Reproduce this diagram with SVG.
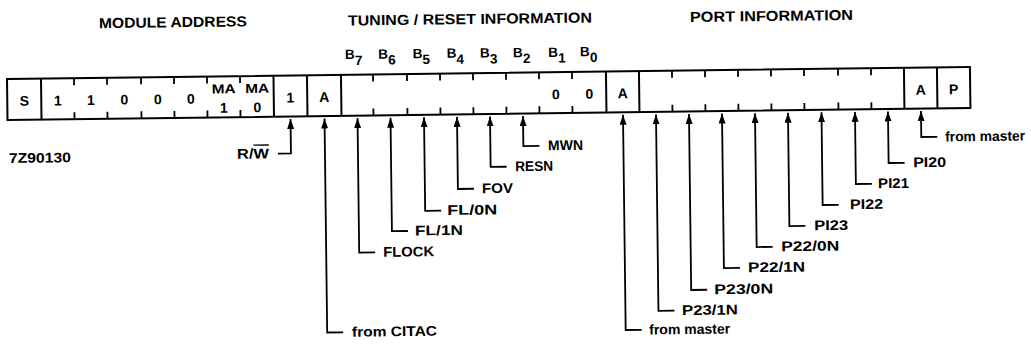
<svg xmlns="http://www.w3.org/2000/svg" width="1031" height="344" viewBox="0 0 1031 344">
<defs>
<style>
.ln{stroke:#000;stroke-width:2;fill:none}
.tk{stroke:#000;stroke-width:1.8;fill:none}
.t{font-family:"Liberation Sans",Arial,sans-serif;font-weight:bold;fill:#000}
.c{font-size:14px;text-anchor:middle}
.ma{font-size:13px;text-anchor:middle}
.lb{font-size:14px}
.ti{font-size:14.5px;text-anchor:middle}
.bl{font-size:13.5px}
.ld{stroke:#000;stroke-width:1.8;fill:none;marker-end:url(#ah)}
</style>
<marker id="ah" markerUnits="userSpaceOnUse" markerWidth="10" markerHeight="7" refX="10" refY="3.5" orient="auto">
<path d="M0,0 L10,3.5 L0,7 z" fill="#000"/>
</marker>
</defs>
<rect width="1031" height="344" fill="#fff"/>
<g transform="rotate(-0.716 7 79)">
<g id="titles" class="t ti">
<text id="title-module" x="173.6" y="29.3" textLength="148" lengthAdjust="spacingAndGlyphs">MODULE ADDRESS</text>
<text id="title-tuning" x="470.7" y="29.8" textLength="244" lengthAdjust="spacingAndGlyphs">TUNING / RESET INFORMATION</text>
<text id="title-port" x="772.2" y="30.5" textLength="163" lengthAdjust="spacingAndGlyphs">PORT INFORMATION</text>
</g>
<g id="bit-labels" class="t bl">
<text x="345.3" y="63.3">B<tspan dy="6">7</tspan></text>
<text x="378.6" y="63.3">B<tspan dy="6">6</tspan></text>
<text x="413" y="63.3">B<tspan dy="6">5</tspan></text>
<text x="447" y="63.3">B<tspan dy="6">4</tspan></text>
<text x="480.3" y="63.5">B<tspan dy="6">3</tspan></text>
<text x="513.3" y="63.5">B<tspan dy="6">2</tspan></text>
<text x="548.6" y="63.8">B<tspan dy="5.5">1</tspan></text>
<text x="580.3" y="63.3">B<tspan dy="6">0</tspan></text>
</g>
<g id="frame">
<rect class="ln" x="7" y="79" width="963" height="41"/>
<path class="ln" d="M41,79V120 M273.5,79V120 M307,79V120 M341,79V120 M606,79V120 M639,79V120 M904,79V120 M937,79V120"/>
<path class="tk" d="M74,79v7M74,113v7 M107,79v7M107,113v7 M141,79v7M141,113v7 M174,79v7M174,113v7 M207,79v7M207,113v7 M240,79v7M240,113v7 M373,79v7M373,113v7 M407,79v7M407,113v7 M440,79v7M440,113v7 M473,79v7M473,113v7 M506,79v7M506,113v7 M539,79v7M539,113v7 M572,79v7M572,113v7 M672,79v7M672,113v7 M705,79v7M705,113v7 M738,79v7M738,113v7 M771,79v7M771,113v7 M804,79v7M804,113v7 M838,79v7M838,113v7 M871,79v7M871,113v7"/>
</g>
<g id="cells" class="t c">
<g id="cell-s"><text x="24" y="106">S</text></g>
<g id="cell-a6"><text x="57.5" y="106">1</text></g>
<g id="cell-a5"><text x="90.5" y="106">1</text></g>
<g id="cell-a4"><text x="124" y="106">0</text></g>
<g id="cell-a3"><text x="157.5" y="106">0</text></g>
<g id="cell-a2"><text x="190.5" y="106">0</text></g>
<g id="cell-ma1"><text class="ma" x="223.5" y="96" textLength="24" lengthAdjust="spacingAndGlyphs">MA</text><text x="223.5" y="115.4">1</text></g>
<g id="cell-ma0"><text class="ma" x="257" y="96" textLength="24" lengthAdjust="spacingAndGlyphs">MA</text><text x="257" y="115.4">0</text></g>
<g id="cell-rw"><text x="290" y="106">1</text></g>
<g id="cell-ack1"><text x="324" y="106">A</text></g>
<g id="cell-b1"><text x="555.5" y="106">0</text></g>
<g id="cell-b0"><text x="589" y="106">0</text></g>
<g id="cell-ack2"><text x="622.5" y="106">A</text></g>
<g id="cell-ack3"><text x="920.5" y="106">A</text></g>
<g id="cell-p"><text x="953.5" y="106">P</text></g>
</g>
<g id="connectors">
<path class="ld" d="M277,157H290V122.5"/>
<path class="ld" d="M340,336.5H324V122.5"/>
<path class="ld" d="M373,257H357V122.5"/>
<path class="ld" d="M406,236H390V122.5"/>
<path class="ld" d="M439.5,216H423.5V122.5"/>
<path class="ld" d="M472.5,194.6H456.5V122.5"/>
<path class="ld" d="M505.5,173H489.5V122.5"/>
<path class="ld" d="M538.5,152.5H522.5V122.5"/>
<path class="ld" d="M638.5,337.7H622.5V122.5"/>
<path class="ld" d="M671.5,319H655.5V122.5"/>
<path class="ld" d="M704.5,298.5H688.5V122.5"/>
<path class="ld" d="M737.5,277H721.5V122.5"/>
<path class="ld" d="M770.5,256.4H754.5V122.5"/>
<path class="ld" d="M803.5,235.8H787.5V122.5"/>
<path class="ld" d="M837,215.2H821V122.5"/>
<path class="ld" d="M870.5,194.6H854.5V122.5"/>
<path class="ld" d="M903.5,174H887.5V122.5"/>
<path class="ld" d="M936.5,148.4H920.5V122.5"/>
</g>
<g id="labels" class="t lb">
<g id="lbl-code"><text x="8" y="163" font-size="14" textLength="62" lengthAdjust="spacingAndGlyphs">7Z90130</text></g>
<g id="lbl-rw"><text x="268" y="161.5" text-anchor="end" textLength="32" lengthAdjust="spacingAndGlyphs">R/<tspan style="text-decoration:overline">W</tspan></text></g>
<g id="lbl-citac"><text x="348.8" y="341" textLength="85" lengthAdjust="spacingAndGlyphs">from CITAC</text></g>
<g id="lbl-flock"><text x="381" y="261.5" textLength="51" lengthAdjust="spacingAndGlyphs">FLOCK</text></g>
<g id="lbl-fl1n"><text x="413" y="240.5" textLength="48" lengthAdjust="spacingAndGlyphs">FL/1N</text></g>
<g id="lbl-fl0n"><text x="445.5" y="220.5" textLength="50" lengthAdjust="spacingAndGlyphs">FL/0N</text></g>
<g id="lbl-fov"><text x="480.6" y="199.1" textLength="31" lengthAdjust="spacingAndGlyphs">FOV</text></g>
<g id="lbl-resn"><text x="514" y="177.5" textLength="38" lengthAdjust="spacingAndGlyphs">RESN</text></g>
<g id="lbl-mwn"><text x="547.2" y="157" textLength="35" lengthAdjust="spacingAndGlyphs">MWN</text></g>
<g id="lbl-master1"><text x="646" y="342.5" textLength="81" lengthAdjust="spacingAndGlyphs">from master</text></g>
<g id="lbl-p231n"><text x="679" y="323.5" textLength="56" lengthAdjust="spacingAndGlyphs">P23/1N</text></g>
<g id="lbl-p230n"><text x="711.5" y="303" textLength="59" lengthAdjust="spacingAndGlyphs">P23/0N</text></g>
<g id="lbl-p221n"><text x="745.6" y="281.5" textLength="57" lengthAdjust="spacingAndGlyphs">P22/1N</text></g>
<g id="lbl-p220n"><text x="779" y="260.9" textLength="58" lengthAdjust="spacingAndGlyphs">P22/0N</text></g>
<g id="lbl-pi23"><text x="812.2" y="240.3" textLength="34" lengthAdjust="spacingAndGlyphs">PI23</text></g>
<g id="lbl-pi22"><text x="848.4" y="219.7" textLength="33" lengthAdjust="spacingAndGlyphs">PI22</text></g>
<g id="lbl-pi21"><text x="876.7" y="199.1" textLength="31" lengthAdjust="spacingAndGlyphs">PI21</text></g>
<g id="lbl-pi20"><text x="912" y="178.5" textLength="33" lengthAdjust="spacingAndGlyphs">PI20</text></g>
<g id="lbl-master2"><text x="944.3" y="153.2" textLength="80" lengthAdjust="spacingAndGlyphs">from master</text></g>
</g>
</g>
</svg>
